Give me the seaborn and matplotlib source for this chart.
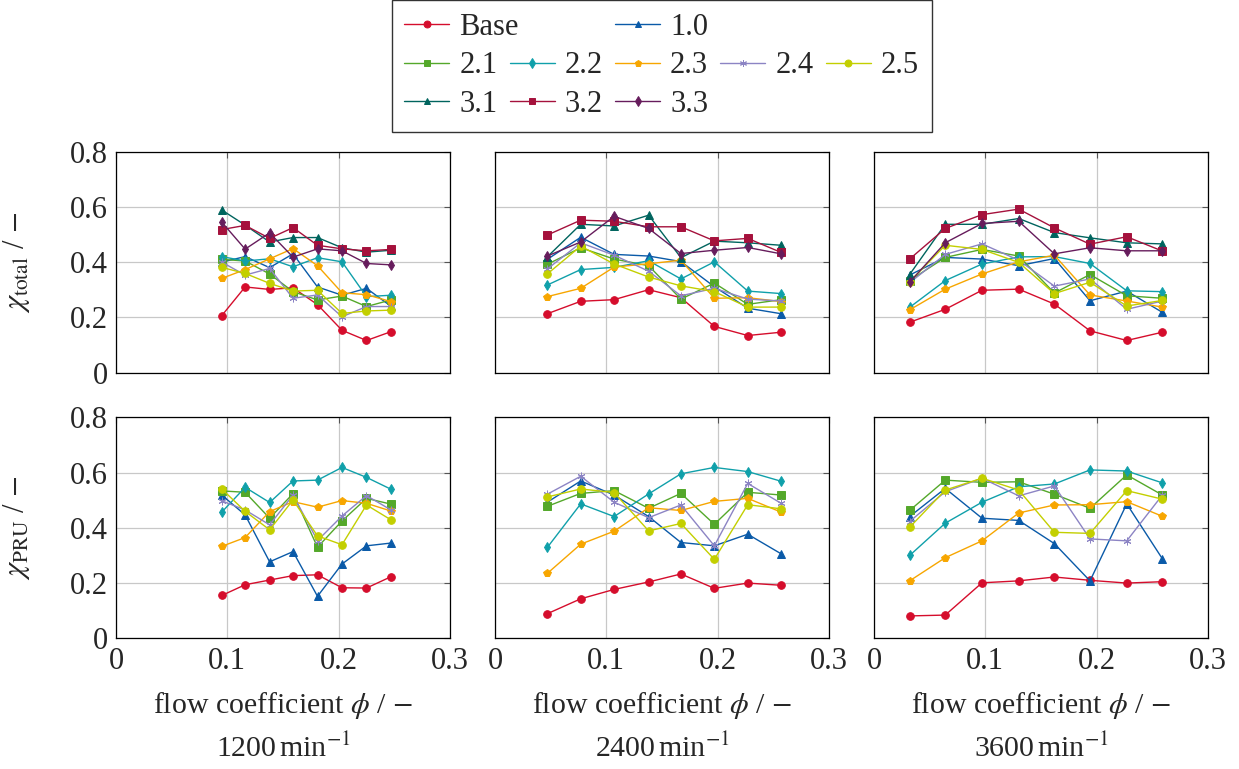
import pandas as pd
import matplotlib.pyplot as plt
import seaborn as sns
from matplotlib.lines import Line2D

series = ["Base", "1.0", "2.1", "2.2", "2.3", "2.4", "2.5", "3.1", "3.2", "3.3"]
colors = ["#d50d2c", "#0a5aa8", "#54a82a", "#10a0aa", "#f7a600", "#8c84c4",
          "#c3cf00", "#00645e", "#a5113c", "#661c5c"]
markers = ["o", "^", "s", "d", "p", (6, 2, 0), "o", "^", "s", "d"]

speeds = ["1200", "2400", "3600"]
phi_1200 = [0.095, 0.116, 0.138, 0.159, 0.181, 0.203, 0.225, 0.247]
phi_2400 = [0.047, 0.077, 0.107, 0.138, 0.167, 0.197, 0.227, 0.257]
phi_3600 = [0.032, 0.064, 0.097, 0.130, 0.162, 0.194, 0.227, 0.259]

# chi_total, upper row
total_1200 = {
    "Base": [0.206, 0.310, 0.301, 0.307, 0.246, 0.153, 0.116, 0.148],
    "1.0": [0.400, 0.420, 0.380, 0.430, 0.310, 0.280, 0.305, 0.240],
    "2.1": [0.410, 0.404, 0.357, 0.293, 0.263, 0.277, 0.239, 0.263],
    "2.2": [0.420, 0.404, 0.412, 0.383, 0.416, 0.401, 0.275, 0.280],
    "2.3": [0.341, 0.373, 0.412, 0.449, 0.387, 0.289, 0.282, 0.257],
    "2.4": [0.400, 0.353, 0.377, 0.269, 0.281, 0.202, 0.239, 0.239],
    "2.5": [0.381, 0.359, 0.323, 0.295, 0.298, 0.214, 0.223, 0.226],
    "3.1": [0.589, 0.534, 0.473, 0.489, 0.489, 0.452, 0.436, 0.443],
    "3.2": [0.518, 0.533, 0.486, 0.525, 0.461, 0.448, 0.441, 0.446],
    "3.3": [0.545, 0.447, 0.506, 0.418, 0.448, 0.441, 0.395, 0.390],
}
total_2400 = {
    "Base": [0.213, 0.258, 0.264, 0.300, 0.271, 0.167, 0.134, 0.146],
    "1.0": [0.410, 0.490, 0.428, 0.422, 0.402, 0.311, 0.233, 0.213],
    "2.1": [0.392, 0.452, 0.411, 0.387, 0.266, 0.324, 0.247, 0.264],
    "2.2": [0.317, 0.373, 0.381, 0.405, 0.339, 0.401, 0.295, 0.286],
    "2.3": [0.275, 0.305, 0.382, 0.394, 0.407, 0.269, 0.271, 0.257],
    "2.4": [0.375, 0.470, 0.425, 0.367, 0.278, 0.305, 0.266, 0.259],
    "2.5": [0.357, 0.458, 0.393, 0.346, 0.314, 0.293, 0.237, 0.237],
    "3.1": [0.419, 0.537, 0.531, 0.570, 0.416, 0.476, 0.470, 0.461],
    "3.2": [0.498, 0.552, 0.548, 0.528, 0.528, 0.477, 0.486, 0.435],
    "3.3": [0.422, 0.473, 0.566, 0.522, 0.431, 0.443, 0.453, 0.430],
}
total_3600 = {
    "Base": [0.182, 0.229, 0.298, 0.302, 0.248, 0.151, 0.116, 0.146],
    "1.0": [0.353, 0.417, 0.411, 0.387, 0.413, 0.260, 0.295, 0.218],
    "2.1": [0.333, 0.417, 0.446, 0.422, 0.288, 0.355, 0.278, 0.269],
    "2.2": [0.236, 0.333, 0.393, 0.419, 0.420, 0.395, 0.296, 0.293],
    "2.3": [0.227, 0.302, 0.357, 0.401, 0.425, 0.281, 0.259, 0.237],
    "2.4": [0.325, 0.428, 0.466, 0.407, 0.313, 0.339, 0.229, 0.259],
    "2.5": [0.329, 0.461, 0.446, 0.399, 0.286, 0.327, 0.241, 0.261],
    "3.1": [0.355, 0.537, 0.537, 0.558, 0.507, 0.488, 0.470, 0.466],
    "3.2": [0.411, 0.522, 0.572, 0.592, 0.524, 0.465, 0.492, 0.440],
    "3.3": [0.327, 0.470, 0.540, 0.548, 0.430, 0.452, 0.441, 0.441],
}

# chi_PRU, lower row
pru_1200 = {
    "Base": [0.155, 0.194, 0.211, 0.227, 0.230, 0.183, 0.182, 0.223],
    "1.0": [0.519, 0.447, 0.277, 0.314, 0.152, 0.269, 0.335, 0.345],
    "2.1": [0.534, 0.529, 0.435, 0.524, 0.330, 0.425, 0.507, 0.486],
    "2.2": [0.457, 0.547, 0.492, 0.570, 0.573, 0.619, 0.583, 0.540],
    "2.3": [0.333, 0.365, 0.459, 0.495, 0.475, 0.499, 0.489, 0.461],
    "2.4": [0.498, 0.465, 0.411, 0.519, 0.354, 0.443, 0.517, 0.465],
    "2.5": [0.541, 0.460, 0.393, 0.501, 0.371, 0.339, 0.483, 0.429],
}
pru_2400 = {
    "Base": [0.089, 0.143, 0.177, 0.204, 0.233, 0.181, 0.200, 0.192],
    "1.0": [0.493, 0.570, 0.519, 0.441, 0.347, 0.335, 0.377, 0.306],
    "2.1": [0.478, 0.525, 0.535, 0.471, 0.525, 0.413, 0.529, 0.519],
    "2.2": [0.329, 0.487, 0.441, 0.523, 0.596, 0.619, 0.604, 0.569],
    "2.3": [0.235, 0.341, 0.388, 0.473, 0.463, 0.496, 0.507, 0.457],
    "2.4": [0.522, 0.587, 0.493, 0.437, 0.483, 0.335, 0.561, 0.489],
    "2.5": [0.512, 0.541, 0.528, 0.389, 0.416, 0.286, 0.484, 0.469],
}
pru_3600 = {
    "Base": [0.081, 0.084, 0.201, 0.208, 0.222, 0.210, 0.200, 0.205],
    "1.0": [0.441, 0.543, 0.435, 0.427, 0.343, 0.208, 0.487, 0.288],
    "2.1": [0.463, 0.573, 0.565, 0.567, 0.522, 0.471, 0.592, 0.519],
    "2.2": [0.300, 0.417, 0.493, 0.549, 0.559, 0.610, 0.606, 0.563],
    "2.3": [0.208, 0.292, 0.353, 0.454, 0.483, 0.484, 0.495, 0.442],
    "2.4": [0.423, 0.531, 0.580, 0.516, 0.552, 0.360, 0.353, 0.519],
    "2.5": [0.402, 0.537, 0.580, 0.537, 0.384, 0.380, 0.535, 0.504],
}

sns.set_style("white")
plt.rcParams["font.family"] = ["Liberation Serif", "DejaVu Serif"]
plt.rcParams["mathtext.fontset"] = "stix"
plt.rcParams["font.size"] = 21

palette = dict(zip(series, colors))
marker_map = dict(zip(series, markers))

fig = plt.figure(figsize=(12.39, 7.69), dpi=100)
lefts = [0.0936, 0.3995, 0.7054]
bottoms = [0.5156, 0.170]
w, h = 0.2696, 0.2871

rows = [
    (r"$\chi_{\mathrm{total}}$ / $-$", [total_1200, total_2400, total_3600]),
    (r"$\chi_{\mathrm{PRU}}$ / $-$", [pru_1200, pru_2400, pru_3600]),
]
phis = [phi_1200, phi_2400, phi_3600]

for r, (ylab, panels) in enumerate(rows):
    for c, vals in enumerate(panels):
        ax = fig.add_axes([lefts[c], bottoms[r], w, h])
        for name, ys in vals.items():
            df = pd.DataFrame({"phi": phis[c], "value": ys})
            sns.lineplot(data=df, x="phi", y="value", color=palette[name],
                         marker=marker_map[name], estimator=None, sort=False,
                         ax=ax, lw=1.0, markersize=5.5, markeredgewidth=0.7,
                         markeredgecolor=palette[name])

        ax.set_xlim(0, 0.3)
        ax.set_ylim(0, 0.8)
        ax.set_xticks([0, 0.1, 0.2, 0.3])
        ax.set_yticks([0, 0.2, 0.4, 0.6, 0.8])
        ax.grid(True, color="#c8c8c8", lw=0.9)
        ax.tick_params(direction="in", top=True, right=True, length=4,
                       width=0.8, color="#555555", labelsize=22, pad=6)
        for sp in ax.spines.values():
            sp.set_color("black")
            sp.set_linewidth(0.9)
        ax.set_xlabel("")
        ax.set_ylabel("")
        if c == 0:
            ax.set_yticklabels(["0", "0.2", "0.4", "0.6", "0.8"])
            ax.set_ylabel(ylab, fontsize=22)
            ax.yaxis.set_label_coords(-0.25, 0.5)
        else:
            ax.set_yticklabels([])
        if r == 1:
            ax.set_xticklabels(["0", "0.1", "0.2", "0.3"])
            ax.set_xlabel(r"flow coefficient $\phi$ / $-$", fontsize=21.5)
            ax.xaxis.set_label_coords(0.5, -0.235)
            ax.text(0.5, -0.43, speeds[c] + r"$\,$min$^{-1}$", fontsize=21.5,
                    ha="center", va="top", transform=ax.transAxes)
        else:
            ax.set_xticklabels([])

# legend laid out row by row: Base, _, 1.0, _, _ / 2.1 ... 2.5 / 3.1 3.2 3.3 _ _
def handle(name):
    return Line2D([], [], color=palette[name], marker=marker_map[name], lw=1.0,
                  markersize=5, markeredgecolor=palette[name], markeredgewidth=0.7)

blank = Line2D([], [], lw=0, marker=None)
grid_rows = [["Base", None, "1.0", None, None],
             ["2.1", "2.2", "2.3", "2.4", "2.5"],
             ["3.1", "3.2", "3.3", None, None]]
hs, ls = [], []
for col in range(5):
    for row in grid_rows:
        name = row[col]
        if name is None:
            hs.append(blank)
            ls.append("")
        elif name == "Base":
            # text added afterwards so it can overhang into the next column
            hs.append(handle(name))
            ls.append("")
        else:
            hs.append(handle(name))
            ls.append(name)

leg_fs = 22
leg = fig.legend(hs, ls, ncol=5, loc="upper center", bbox_to_anchor=(0.534, 1.0),
                 fontsize=leg_fs, frameon=True, fancybox=False, edgecolor="black",
                 handlelength=1.47, handletextpad=0.33, columnspacing=0.4,
                 labelspacing=0.31, borderpad=0.42, borderaxespad=0.0)
leg.get_frame().set_linewidth(1.0)

fig.canvas.draw()
bb = leg.get_texts()[0].get_window_extent()
fx, fy = fig.transFigure.inverted().transform((bb.x0, bb.y0))
fig.text(fx, fy, "Base", fontsize=leg_fs, ha="left", va="baseline", zorder=10)

fig.savefig("out.png", dpi=100)
